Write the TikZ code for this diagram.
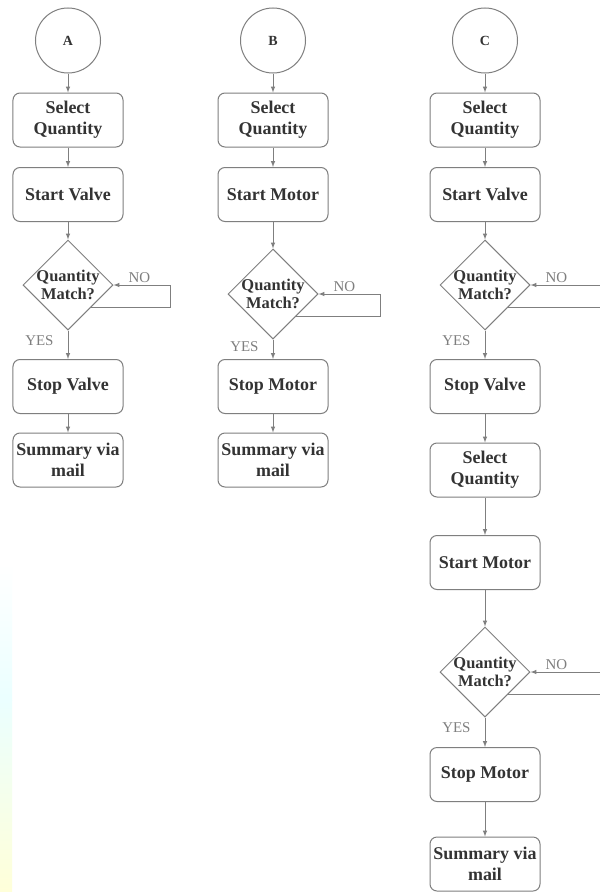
\documentclass[tikz,border=0pt]{standalone}
\usepackage{fontspec}
\setmainfont{Liberation Serif}
\usetikzlibrary{shapes.geometric, positioning}
\tikzset{>=latex}
\definecolor{edge}{HTML}{7F7F7F}
\definecolor{ink}{HTML}{333333}
\tikzset{
    stepbox/.style={draw=edge, line width=1bp, rounded corners=7bp, fill=white,
        minimum width=110bp, minimum height=54bp, inner sep=1bp, align=center,
        text=ink, font=\fontsize{18}{21}\selectfont\bfseries},
    decision/.style={diamond, draw=edge, line width=1bp, minimum width=90bp,
        minimum height=90bp, inner sep=-6bp, align=center, text=ink,
        font=\fontsize{16.5}{18.5}\selectfont\bfseries},
    terminal/.style={circle, draw=edge, line width=1bp, minimum size=65bp,
        text=ink, font=\fontsize{14}{16}\selectfont\bfseries},
    flow/.style={->, draw=edge, line width=1bp},
    answer/.style={text=edge, inner sep=0pt, font=\fontsize{15}{17}\selectfont},
}

\begin{document}
\begin{tikzpicture}[x=1bp, y=-1bp]
    \clip (0, 0) rectangle (600, 892);
    \fill[white] (0, 0) rectangle (600, 892);
    \shade[top color=white, bottom color=cyan!8] (0, 563) rectangle (12, 700);
    \shade[top color=cyan!8, bottom color=yellow!15] (0, 700) rectangle (12, 892);
    % the three chains A, B, C
    \foreach \col/\x/\act/\dy/\lx in {A/68/Valve/285/170, B/273/Motor/294/380, C/485/Valve/285/610} {
        \node [terminal] (c\col) at (\x, 40.5) {\col};
        \node [stepbox] (q\col) at (\x, 120) {Select\\Quantity};
        \node [stepbox] (s\col) at (\x, 194.5) {Start \act};
        \node [decision] (d\col) at (\x, \dy) {Quantity\\Match?};
        \node [stepbox] (t\col) at (\x, 386.5) {Stop \act};
        \draw[flow] (c\col) -- (q\col);
        \draw[flow] (q\col) -- (s\col);
        \draw[flow] (s\col) -- (d\col);
        \draw[flow] (d\col.-45) -| (\lx, \dy) -- (d\col.east);
        \node [answer, above right=2bp and 15bp] (no\col) at (d\col.east) {NO};
        \draw[flow] (d\col) -- node[answer, pos=.35, left=14bp] (yes\col) {YES} (t\col);
    }
    \foreach \col/\x in {A/68, B/273} {
        \node [stepbox] (m\col) at (\x, 460) {Summary via\\mail};
        \draw[flow] (t\col) -- (m\col);
    }
    % second part of C
    \node [stepbox] (q2) at (485, 470) {Select\\Quantity};
    \node [stepbox] (s2) at (485, 562.5) {Start Motor};
    \node [decision] (d2) at (485, 672) {Quantity\\Match?};
    \node [stepbox] (t2) at (485, 774.5) {Stop Motor};
    \node [stepbox] (m2) at (485, 864) {Summary via\\mail};
    \draw[flow] (tC) -- (q2);
    \draw[flow] (q2) -- (s2);
    \draw[flow] (s2) -- (d2);
    \draw[flow] (d2.-45) -| (610, 672) -- (d2.east);
    \node [answer, above right=2bp and 15bp] (no2) at (d2.east) {NO};
    \draw[flow] (d2) -- node[answer, pos=.35, left=14bp] (yes2) {YES} (t2);
    \draw[flow] (t2) -- (m2);
\end{tikzpicture}
\end{document}
